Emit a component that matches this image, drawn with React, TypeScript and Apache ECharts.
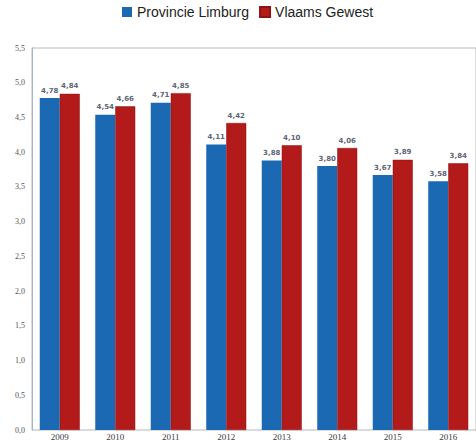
import React, { useEffect, useRef } from "react";
import * as echarts from "echarts";

const years = ["2009", "2010", "2011", "2012", "2013", "2014", "2015", "2016"];
const limburg = [4.78, 4.54, 4.71, 4.11, 3.88, 3.8, 3.67, 3.58];
const vlaams = [4.84, 4.66, 4.85, 4.42, 4.1, 4.06, 3.89, 3.84];
const seriesNames = ["Provincie Limburg", "Vlaams Gewest"];

const fmt2 = (v: number) => v.toFixed(2).replace(".", ",");

export default function App() {
  const ref = useRef<HTMLDivElement>(null);
  useEffect(() => {
    if (!ref.current) return;
    const chart = echarts.init(ref.current, undefined, { renderer: "svg" });
    const labelStyle = {
      show: true,
      position: "top" as const,
      distance: 4,
      fontSize: 7,
      fontWeight: "bold" as const,
      fontFamily: "DejaVu Sans",
      color: "#5d6577",
      formatter: (p: any) => fmt2(p.value),
    };
    chart.setOption({
      animation: false,
      legend: {
        top: 0,
        left: 117,
        itemWidth: 10,
        itemHeight: 10,
        itemGap: 10,
        icon: "rect",
        textStyle: { fontSize: 14, color: "#222", fontFamily: "Liberation Sans" },
        data: seriesNames,
      },
      grid: {
        left: 32,
        right: -14,
        top: 48,
        bottom: 11,
        show: true,
        borderColor: "#b8b8b8",
        borderWidth: 1,
      },
      xAxis: {
        type: "category",
        data: years,
        axisLine: { show: false },
        axisTick: { show: false },
        axisLabel: {
          margin: 2,
          fontSize: 9,
          fontFamily: "Liberation Serif",
          color: "#3a3a3a",
        },
      },
      yAxis: {
        type: "value",
        min: 0,
        max: 5.5,
        interval: 0.5,
        axisLine: { show: true, lineStyle: { color: "#a9b4c4" } },
        axisTick: { show: false },
        splitLine: { show: false },
        axisLabel: {
          margin: 7,
          fontSize: 8,
          fontFamily: "Liberation Serif",
          color: "#555",
          formatter: (v: number) => v.toFixed(1).replace(".", ","),
        },
      },
      series: [
        {
          name: seriesNames[0],
          type: "bar",
          data: limburg,
          barWidth: 20,
          barGap: "0%",
          itemStyle: { color: "#1b69b3" },
          label: labelStyle,
        },
        {
          name: seriesNames[1],
          type: "bar",
          data: vlaams,
          barWidth: 20,
          itemStyle: { color: "#b21b1a", borderColor: "#8e1312", borderWidth: 0.5 },
          label: labelStyle,
        },
      ],
    });
    return () => chart.dispose();
  }, []);
  return (
    <div
      ref={ref}
      style={{ position: "absolute", left: 0, top: 0, width: 476, height: 441 }}
    />
  );
}
